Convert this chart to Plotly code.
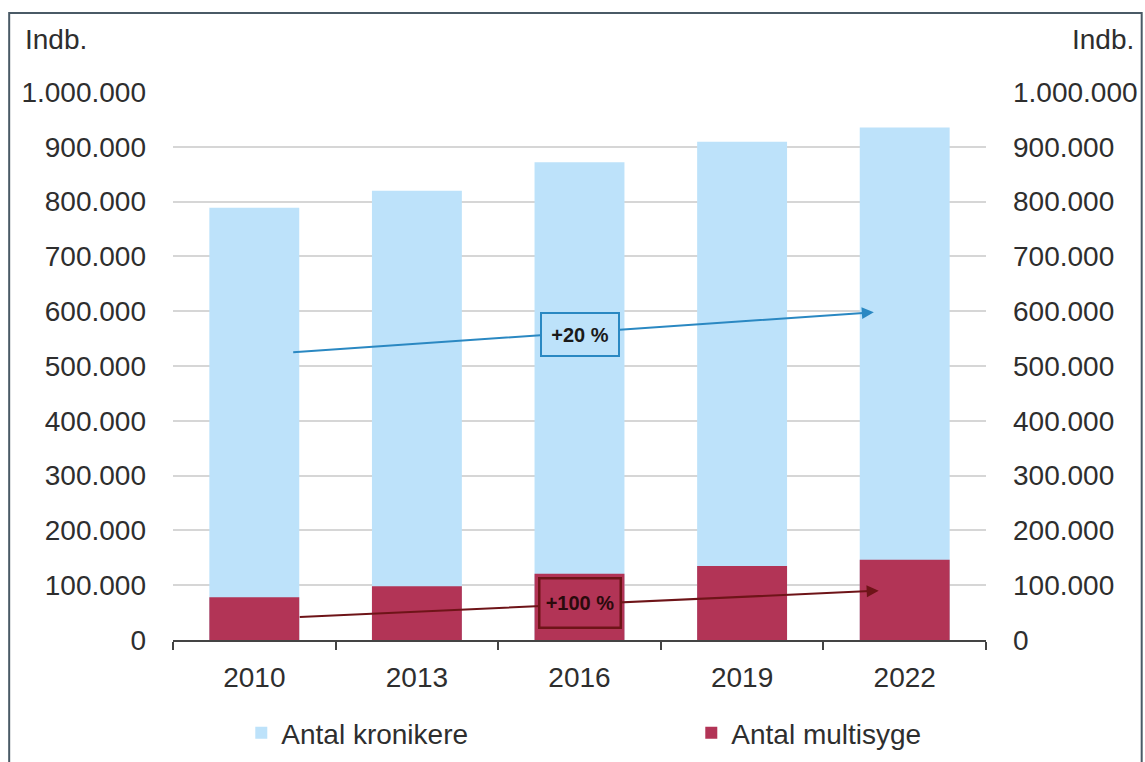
import plotly.graph_objects as go

# Data: number of chronically ill and multimorbid people per year
years = ["2010", "2013", "2016", "2019", "2022"]
antal_kronikere = [789000, 820000, 872000, 909000, 935000]
antal_multisyge = [78000, 98000, 121000, 135000, 146500]

# Trend arrows (category index, value) and their percentage labels
blue_arrow_start = (0.23, 525000)
blue_arrow_end = (3.81, 598000)
blue_label = "+20 %"
blue_label_pos = (2.0, 557000)

red_arrow_start = (0.27, 42000)
red_arrow_end = (3.84, 90000)
red_label = "+100 %"
red_label_pos = (2.0, 67500)

FONT = "Liberation Sans, Arial, Helvetica, sans-serif"
TEXT = "#2E2E2E"
BLUE = "#BDE2FA"
RED = "#B23456"
ARROW_BLUE = "#2A88C2"
ARROW_RED = "#6E1418"

fig = go.Figure()

fig.add_trace(go.Bar(
    x=years, y=antal_kronikere, name="Antal kronikere", legend="legend",
    marker=dict(color=BLUE, line=dict(width=0)), width=0.553,
))
fig.add_trace(go.Bar(
    x=years, y=antal_multisyge, name="Antal multisyge", legend="legend2",
    marker=dict(color=RED, line=dict(width=0)), width=0.553,
))
# carries the right-hand value axis
fig.add_trace(go.Scatter(
    x=years, y=antal_kronikere, yaxis="y2", mode="markers",
    marker=dict(opacity=0), showlegend=False, hoverinfo="skip",
))

annotations = [
    dict(text="Indb.", xref="paper", yref="paper", x=-0.184, y=1.095,
         xanchor="left", yanchor="middle", showarrow=False,
         font=dict(size=28, color=TEXT, family=FONT)),
    dict(text="Indb.", xref="paper", yref="paper", x=1.184, y=1.095,
         xanchor="right", yanchor="middle", showarrow=False,
         font=dict(size=28, color=TEXT, family=FONT)),
    # trend arrows
    dict(x=blue_arrow_end[0], y=blue_arrow_end[1], ax=blue_arrow_start[0], ay=blue_arrow_start[1],
         xref="x", yref="y", axref="x", ayref="y", text="", showarrow=True,
         arrowhead=2, arrowsize=1.2, arrowwidth=2, arrowcolor=ARROW_BLUE),
    dict(x=red_arrow_end[0], y=red_arrow_end[1], ax=red_arrow_start[0], ay=red_arrow_start[1],
         xref="x", yref="y", axref="x", ayref="y", text="", showarrow=True,
         arrowhead=2, arrowsize=1.2, arrowwidth=2, arrowcolor=ARROW_RED),
    # percentage boxes
    dict(x=blue_label_pos[0], y=blue_label_pos[1], xref="x", yref="y", text="<b>" + blue_label + "</b>",
         showarrow=False, width=76, height=41, borderpad=0, bordercolor=ARROW_BLUE, borderwidth=2,
         bgcolor=BLUE, font=dict(size=20, color="#1a1a1a", family=FONT)),
    dict(x=red_label_pos[0], y=red_label_pos[1], xref="x", yref="y", text="<b>" + red_label + "</b>",
         showarrow=False, width=79, height=47, borderpad=0, bordercolor=ARROW_RED, borderwidth=2.5,
         bgcolor=RED, font=dict(size=20, color="#2a0a0c", family=FONT)),
]

legend_common = dict(
    orientation="h", yref="container", y=0.038, xanchor="left", yanchor="middle",
    font=dict(size=28, color=TEXT, family=FONT), bgcolor="rgba(0,0,0,0)", itemclick=False,
)

fig.update_layout(
    width=1145, height=762,
    margin=dict(l=173, r=159, t=92, b=122),
    paper_bgcolor="white", plot_bgcolor="white",
    barmode="overlay", separators=",.",
    font=dict(family=FONT, size=28, color=TEXT),
    xaxis=dict(
        type="category", showline=True, linecolor="#444444", linewidth=2,
        ticks="outside", tickson="boundaries", ticklen=8, tickwidth=2, tickcolor="#444444",
        showgrid=False, tickfont=dict(size=28, color=TEXT), ticklabelstandoff=11,
        automargin=False,
    ),
    yaxis=dict(
        range=[0, 1000000], dtick=100000, tickformat=",d",
        showgrid=True, gridcolor="#D6D6D6", gridwidth=2, zeroline=False,
        ticks="", showline=False, tickfont=dict(size=28, color=TEXT), ticklabelstandoff=26,
        automargin=False,
    ),
    yaxis2=dict(
        overlaying="y", side="right", range=[0, 1000000], dtick=100000, tickformat=",d",
        showgrid=False, zeroline=False, ticks="", showline=False,
        tickfont=dict(size=28, color=TEXT), ticklabelstandoff=26, automargin=False,
    ),
    legend=dict(x=0.0840, **legend_common),
    legend2=dict(x=0.6375, **legend_common),
    annotations=annotations,
    shapes=[dict(type="rect", xref="paper", yref="paper",
                 x0=-0.2015, x1=1.1915, y0=-0.3, y1=1.1443,
                 line=dict(color="#4A5A66", width=2), layer="above")],
    showlegend=True,
)

fig.write_html("out.html")
